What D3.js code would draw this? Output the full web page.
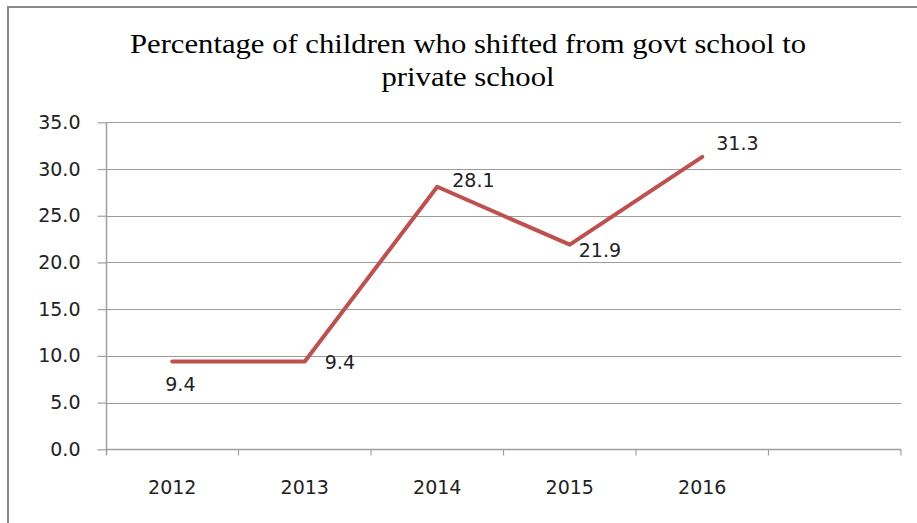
<!DOCTYPE html>
<html>
<head>
<meta charset="utf-8">
<script src="https://cdn.jsdelivr.net/npm/d3@7/dist/d3.min.js"></script>
<style>
  html, body { margin: 0; padding: 0; background: #fff; }
  svg { display: block; }
</style>
</head>
<body>
<svg id="chart" width="917" height="523"></svg>
<script>
const categories = ["2012", "2013", "2014", "2015", "2016", ""];
const values = [9.4, 9.4, 28.1, 21.9, 31.3];
const yTicks = [0, 5, 10, 15, 20, 25, 30, 35];
const titleLines = ["Percentage of children who shifted from govt school to", "private school"];
// label placement per point: [dx, dy, anchor]
const labelPos = [[-7, 23, "start"], [20, 1, "start"], [15, -7, "start"], [9, 5, "start"], [14, -14, "start"]];

(function () {
const svg = d3.select("#chart");
const pL = 106, pR = 901, pT = 122.3, pB = 449.3;

// outer border
svg.append("rect").attr("x", 8).attr("y", 7).attr("width", 940).attr("height", 540)
  .attr("fill", "none").attr("stroke", "#8a8a8a").attr("stroke-width", 2);

const x = d3.scaleBand().domain(categories).range([pL, pR]).padding(0);
const y = d3.scaleLinear().domain([0, 35]).range([pB, pT]);

// gridlines
svg.append("g").selectAll("line").data(yTicks.filter(d => d > 0)).join("line")
  .attr("x1", pL).attr("x2", pR)
  .attr("y1", d => Math.round(y(d)) + 0.5).attr("y2", d => Math.round(y(d)) + 0.5)
  .attr("stroke", "#9c9c9c").attr("stroke-width", 1);

// y axis
const yAxis = d3.axisLeft(y).tickValues(yTicks).tickFormat(d3.format(".1f")).tickSize(9).tickPadding(17);
const gy = svg.append("g").attr("transform", `translate(${pL + 0.5},0)`).call(yAxis);
gy.select(".domain").attr("stroke", "#a0a0a0").attr("stroke-width", 1.5).attr("d", `M0,${pB + 6}V${pT}`);
gy.selectAll(".tick line").attr("stroke", "#a0a0a0").attr("stroke-width", 1.2);
gy.selectAll(".tick text").attr("font-family", "DejaVu Sans, sans-serif").attr("font-size", 19).attr("fill", "#222");

// x axis
const boundaries = categories.map(c => x(c) + x.bandwidth());
const gx = svg.append("g").attr("transform", `translate(0,${Math.round(pB) + 0.5})`);
gx.append("line").attr("x1", pL).attr("x2", pR).attr("stroke", "#a0a0a0").attr("stroke-width", 1.5);
gx.selectAll("line.tk").data(boundaries).join("line").attr("class", "tk")
  .attr("x1", d => d).attr("x2", d => d).attr("y1", 0).attr("y2", 6)
  .attr("stroke", "#a0a0a0").attr("stroke-width", 1.2);
gx.selectAll("text").data(categories).join("text")
  .attr("x", d => x(d) + x.bandwidth() / 2).attr("y", 44)
  .attr("text-anchor", "middle")
  .attr("font-family", "DejaVu Sans, sans-serif").attr("font-size", 19).attr("fill", "#222")
  .text(d => d);

// line
const pts = values.map((v, i) => [x(categories[i]) + x.bandwidth() / 2, y(v)]);
svg.append("path").datum(values)
  .attr("d", d3.line().x((d, i) => x(categories[i]) + x.bandwidth() / 2).y(d => y(d)))
  .attr("fill", "none").attr("stroke", "#c0504d").attr("stroke-width", 4)
  .attr("stroke-linejoin", "round").attr("stroke-linecap", "round");

// data labels
svg.append("g").selectAll("text").data(values).join("text")
  .attr("x", (d, i) => pts[i][0] + labelPos[i][0])
  .attr("y", (d, i) => pts[i][1] + labelPos[i][1])
  .attr("text-anchor", (d, i) => labelPos[i][2])
  .attr("dominant-baseline", "central")
  .attr("font-family", "DejaVu Sans, sans-serif").attr("font-size", 19).attr("fill", "#222")
  .text(d => d3.format(".1f")(d));

// title
const titleWidths = [676, 173];
svg.append("g").selectAll("text").data(titleLines).join("text")
  .attr("x", 468).attr("y", (d, i) => 53 + i * 33)
  .attr("text-anchor", "middle")
  .attr("font-family", "Liberation Serif, Times New Roman, serif").attr("font-size", 28).attr("fill", "#000")
  .attr("textLength", (d, i) => titleWidths[i]).attr("lengthAdjust", "spacingAndGlyphs")
  .text(d => d);
})();
</script>
</body>
</html>
